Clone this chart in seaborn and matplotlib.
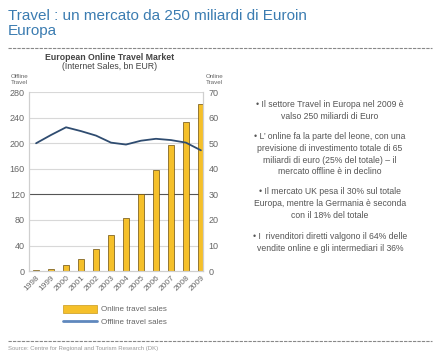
import matplotlib
matplotlib.use("Agg")
import matplotlib.pyplot as plt
import seaborn as sns
import pandas as pd
from matplotlib.lines import Line2D
from matplotlib.patches import Patch

# dati
anni = ["1998", "1999", "2000", "2001", "2002", "2003",
        "2004", "2005", "2006", "2007", "2008", "2009"]
online = [0.3, 0.8, 2.3, 4.8, 8.7, 14.0, 20.7, 30.3, 39.7, 49.3, 58.4, 65.2]
offline = [200, 213, 225, 219, 212, 201, 198, 204, 207, 205, 201, 189]
tick_sx = [0, 40, 80, 120, 160, 200, 240, 280]
tick_dx = [0, 10, 20, 30, 40, 50, 60, 70]

punti = [
    "• Il settore Travel in Europa nel 2009 è\nvalso 250 miliardi di Euro",
    "• L’ online fa la parte del leone, con una\nprevisione di investimento totale di 65\nmiliardi di euro (25% del totale) – il\nmercato offline è in declino",
    "• Il mercato UK pesa il 30% sul totale\nEuropa, mentre la Germania è seconda\ncon il 18% del totale",
    "• I  rivenditori diretti valgono il 64% delle\nvendite online e gli intermediari il 36%",
]

df = pd.DataFrame({"anno": anni, "online": online, "offline": offline})
df["pos"] = range(len(df))

sns.set_style("white")
plt.rcParams["font.family"] = ["Liberation Sans", "DejaVu Sans"]

giallo = "#f5c02a"
blu = "#2f4c70"
grigio = "#666666"

fig = plt.figure(figsize=(4.4, 3.53), dpi=100)
ax = fig.add_axes([0.066, 0.232, 0.395, 0.507])
ax2 = ax.twinx()

# barre (asse destro)
sns.barplot(data=df, x="anno", y="online", ax=ax2, color=giallo,
            width=0.44, edgecolor="#6b4e0e", linewidth=0.5, saturation=1)
ax2.set_ylim(0, 70)
ax2.set_yticks(tick_dx)
ax2.set_ylabel("")

# linea (asse sinistro)
sns.lineplot(data=df, x="pos", y="offline", ax=ax, color=blu, linewidth=1.3)
ax.set_ylim(0, 280)
ax.set_yticks(tick_sx)
ax.set_xlim(-0.47, 11.13)
ax.set_xticks(df["pos"])
ax.set_xticklabels(anni, rotation=45, ha="right", rotation_mode="anchor")
ax.set_xlabel("")
ax.set_ylabel("")
ax.set_zorder(ax2.get_zorder() + 1)
ax.patch.set_visible(False)

for v in tick_sx[1:]:
    col = "#555555" if v == 120 else "#d8d8d8"
    ax2.axhline(v / 4, color=col, linewidth=0.8, zorder=0)

for a in (ax, ax2):
    for s in a.spines.values():
        s.set_color("#cfcfcf")
        s.set_linewidth(0.8)
    a.tick_params(labelsize=6, colors=grigio, length=0, pad=3)
ax.tick_params(axis="y", labelsize=6.5)
ax2.tick_params(axis="y", labelsize=6.5, pad=4)
ax.tick_params(axis="x", pad=2)
ax.spines["top"].set_visible(False)
ax2.spines["top"].set_visible(False)

# titoli
fig.text(0.018, 0.975, "Travel : un mercato da 250 miliardi di Euroin\nEuropa",
         fontsize=11, color="#3b7cb1", va="top", ha="left", linespacing=1.08)
fig.text(0.25, 0.838, "European Online Travel Market", fontsize=6.3,
         fontweight="bold", color="#444444", ha="center", va="center")
fig.text(0.25, 0.812, "(Internet Sales, bn EUR)", fontsize=6.3,
         color="#444444", ha="center", va="center")
fig.text(0.045, 0.775, "Offline\nTravel", fontsize=4.5, color=grigio,
         ha="center", va="center", linespacing=1.1)
fig.text(0.487, 0.775, "Online\nTravel", fontsize=4.5, color=grigio,
         ha="center", va="center", linespacing=1.1)

# testo a destra
for testo, y in zip(punti, [0.716, 0.626, 0.470, 0.343]):
    fig.text(0.75, y, testo, fontsize=6.2, color="#555555", ha="center",
             va="top", linespacing=1.4)

# legenda
maniglie = [Patch(facecolor=giallo, edgecolor="#c99a1a", linewidth=0.5),
            Line2D([0], [0], color="#5f88bd", linewidth=2)]
fig.legend(maniglie, ["Online travel sales", "Offline travel sales"],
           loc="upper left", bbox_to_anchor=(0.135, 0.148), frameon=False,
           fontsize=5.8, labelcolor=grigio, handlelength=4.2, handleheight=1.1,
           handletextpad=0.5, labelspacing=0.55, borderpad=0)

# linee tratteggiate
for y in (0.864, 0.034):
    fig.add_artist(Line2D([0.018, 0.982], [y, y], transform=fig.transFigure,
                          color="#888888", linewidth=0.8,
                          linestyle=(0, (3, 1))))
fig.text(0.018, 0.012, "Source: Centre for Regional and Tourism Research (DK)",
         fontsize=4.3, color="#999999", ha="left", va="center")

fig.savefig("out.png", dpi=100)
